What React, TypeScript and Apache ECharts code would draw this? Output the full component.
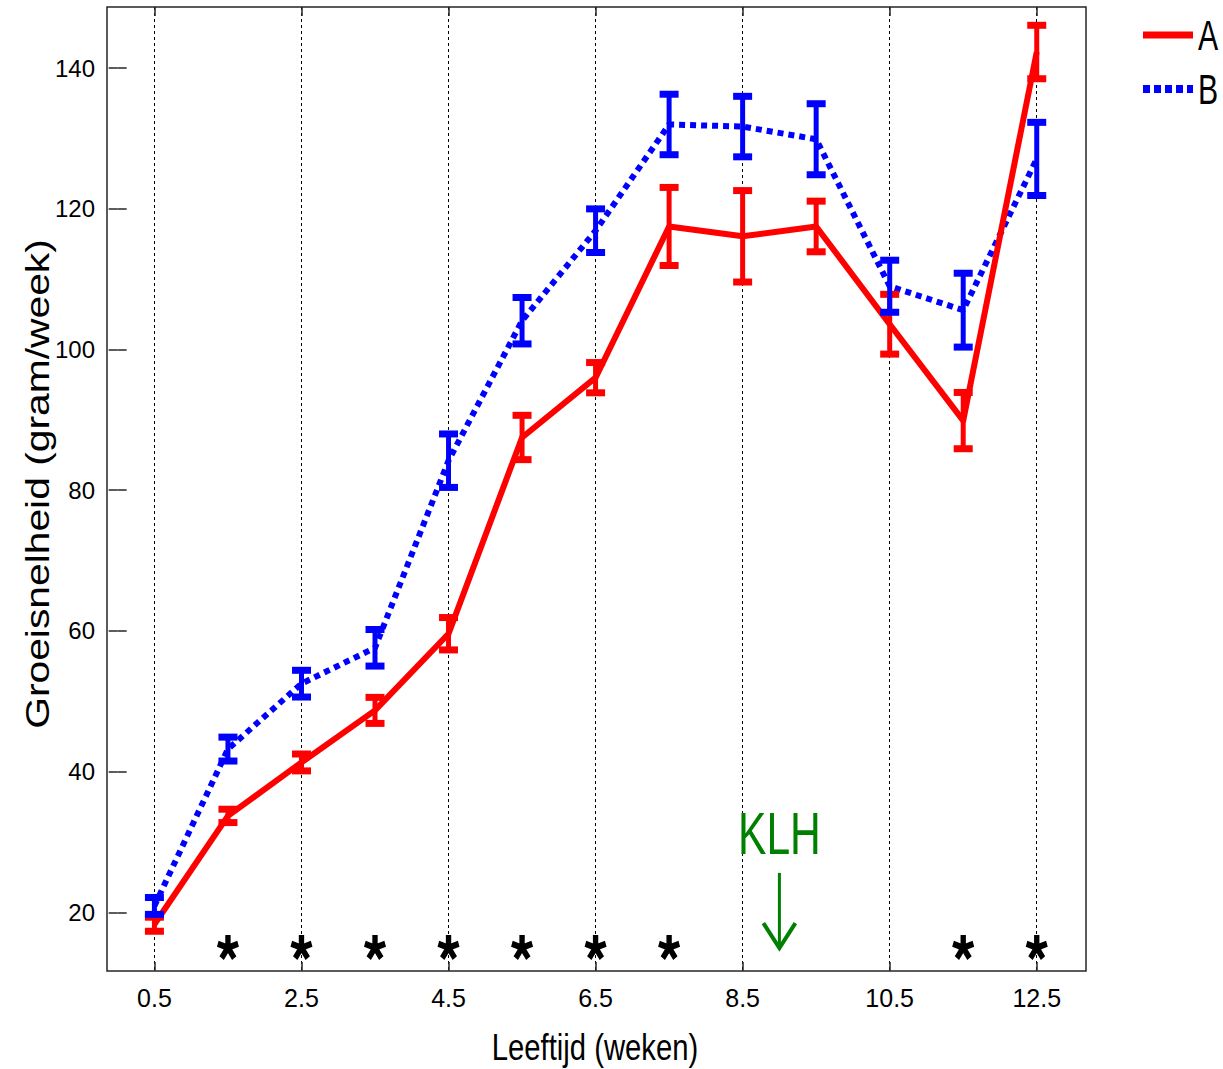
import React, { useEffect, useRef } from "react";
import * as echarts from "echarts";

const weeks = [0.5, 1.5, 2.5, 3.5, 4.5, 5.5, 6.5, 7.5, 8.5, 9.5, 10.5, 11.5, 12.5];
const meanA = [18.3, 33.7, 41.3, 48.7, 59.6, 87.5, 96.0, 117.5, 116.1, 117.5, 103.6, 89.9, 142.3];
const errA = [1.0, 0.95, 1.2, 1.85, 2.3, 3.15, 2.15, 5.55, 6.5, 3.6, 4.25, 4.0, 3.8];
const meanB = [20.9, 43.2, 52.5, 57.6, 84.2, 104.1, 116.9, 132.0, 131.7, 129.9, 109.0, 105.6, 127.1];
const errB = [1.2, 1.7, 1.9, 2.6, 3.8, 3.3, 3.1, 4.3, 4.3, 5.05, 3.7, 5.25, 5.2];
const starWeeks = [1.5, 2.5, 3.5, 4.5, 5.5, 6.5, 7.5, 11.5, 12.5];
const starLevel = 15.0;
const xTicks = [0.5, 2.5, 4.5, 6.5, 8.5, 10.5, 12.5];
const yTicks = [20, 40, 60, 80, 100, 120, 140];
const seriesNames = ["A", "B"];
const seriesColors = ["#ff0000", "#0000ff"];
const xName = "Leeftijd (weken)";
const yName = "Groeisnelheid (gram/week)";
const klhLabel = "KLH";
const klhWeek = 9.0;
const klhTextLevel = 31.2;
const klhArrowTop = 25.6;
const klhArrowBottom = 14.9;

const X_MIN = -0.145;
const X_MAX = 13.17;
const Y_MIN = 11.65;
const Y_MAX = 148.7;

const SANS = "'Liberation Sans', Arial, sans-serif";

function starPath(): string {
  const angles = [-90, -18, 54, 126, 198];
  const w = 0.25;
  const parts: string[] = [];
  for (const a of angles) {
    const r = (a * Math.PI) / 180;
    const dx = Math.cos(r), dy = Math.sin(r);
    const nx = -dy * w, ny = dx * w;
    const p = [
      [nx, ny],
      [dx + nx, dy + ny],
      [dx - nx, dy - ny],
      [-nx, -ny],
    ];
    parts.push(
      "M" + p.map((q) => q[0].toFixed(3) + " " + q[1].toFixed(3)).join(" L") + " Z"
    );
  }
  return "path://" + parts.join(" ");
}

function errorBarRender(color: string) {
  return (params: any, api: any) => {
    const x = api.value(0);
    const lo = api.value(1);
    const hi = api.value(2);
    const pLo = api.coord([x, lo]);
    const pHi = api.coord([x, hi]);
    const capW = 19;
    const capH = 7;
    const stemW = 5;
    return {
      type: "group",
      children: [
        {
          type: "rect",
          shape: { x: pHi[0] - stemW / 2, y: pHi[1], width: stemW, height: pLo[1] - pHi[1] },
          style: { fill: color },
        },
        {
          type: "rect",
          shape: { x: pHi[0] - capW / 2, y: pHi[1] - capH / 2, width: capW, height: capH },
          style: { fill: color },
        },
        {
          type: "rect",
          shape: { x: pLo[0] - capW / 2, y: pLo[1] - capH / 2, width: capW, height: capH },
          style: { fill: color },
        },
      ],
    };
  };
}

export default function App() {
  const ref = useRef<HTMLDivElement>(null);
  useEffect(() => {
    document.body.style.margin = "0";
    if (!ref.current) return;
    const chart = echarts.init(ref.current, null, { renderer: "svg" });
    const tickStyle = { color: "#262626", width: 1.5 };
    const option: any = {
      animation: false,
      backgroundColor: "#ffffff",
      grid: {
        left: 107,
        right: 137,
        top: 7,
        bottom: 98,
        show: true,
        borderColor: "#262626",
        borderWidth: 1.5,
        backgroundColor: "transparent",
      },
      xAxis: [
        {
          type: "value",
          min: X_MIN,
          max: X_MAX,
          position: "bottom",
          axisLine: { show: false },
          axisTick: { show: true, inside: true, length: 9, customValues: xTicks, lineStyle: tickStyle },
          axisLabel: {
            customValues: xTicks,
            fontSize: 25,
            fontFamily: SANS,
            color: "#000",
            margin: 14,
            formatter: (v: number) => v.toFixed(1),
          },
          splitLine: { show: true, lineStyle: { type: [3, 3], color: "#000", width: 1 } },
        },
        {
          type: "value",
          min: X_MIN,
          max: X_MAX,
          position: "top",
          axisLine: { show: false },
          axisTick: { show: true, inside: true, length: 9, customValues: xTicks, lineStyle: tickStyle },
          axisLabel: { show: false },
          splitLine: { show: false },
        },
      ],
      yAxis: [
        {
          type: "value",
          min: Y_MIN,
          max: Y_MAX,
          position: "left",
          axisLine: { show: false },
          axisTick: { show: true, inside: true, length: 9, customValues: yTicks, lineStyle: tickStyle },
          axisLabel: {
            customValues: yTicks,
            fontSize: 24,
            fontFamily: SANS,
            color: "#000",
            margin: 12,
          },
          splitLine: { show: false },
        },
        {
          type: "value",
          min: Y_MIN,
          max: Y_MAX,
          position: "right",
          axisLine: { show: false },
          axisTick: { show: true, inside: true, length: 9, customValues: yTicks, lineStyle: tickStyle },
          axisLabel: { show: false },
          splitLine: { show: false },
        },
      ],
      series: [
        {
          name: seriesNames[1],
          type: "line",
          data: weeks.map((w, i) => [w, meanB[i]]),
          symbol: "none",
          lineStyle: { color: seriesColors[1], width: 6, type: [6, 5], cap: "butt" },
          z: 2,
        },
        {
          name: seriesNames[0],
          type: "line",
          data: weeks.map((w, i) => [w, meanA[i]]),
          symbol: "none",
          lineStyle: { color: seriesColors[0], width: 6, join: "round" },
          z: 3,
        },
        {
          name: seriesNames[0] + " err",
          type: "custom",
          data: weeks.map((w, i) => [w, meanA[i] - errA[i], meanA[i] + errA[i]]),
          encode: { x: 0, y: [1, 2] },
          renderItem: errorBarRender(seriesColors[0]),
          z: 4,
        },
        {
          name: seriesNames[1] + " err",
          type: "custom",
          data: weeks.map((w, i) => [w, meanB[i] - errB[i], meanB[i] + errB[i]]),
          encode: { x: 0, y: [1, 2] },
          renderItem: errorBarRender(seriesColors[1]),
          z: 5,
        },
        {
          name: "significant",
          type: "scatter",
          data: starWeeks.map((w) => [w, starLevel]),
          symbol: starPath(),
          symbolSize: [22, 25],
          itemStyle: { color: "#000", opacity: 1 },
          z: 6,
        },
      ],
    };
    chart.setOption(option);

    const pText = chart.convertToPixel({ gridIndex: 0 }, [klhWeek, klhTextLevel]);
    const pTop = chart.convertToPixel({ gridIndex: 0 }, [klhWeek, klhArrowTop]);
    const pBot = chart.convertToPixel({ gridIndex: 0 }, [klhWeek, klhArrowBottom]);
    const green = "#008000";

    chart.setOption({
      graphic: [
        // legend
        { type: "line", shape: { x1: 1143, y1: 35, x2: 1193, y2: 35 }, style: { stroke: seriesColors[0], lineWidth: 7 } },
        {
          type: "text", x: 1198, y: 36, scaleX: 0.72,
          style: { text: seriesNames[0], fontSize: 42, fontFamily: SANS, fill: "#000", align: "left", verticalAlign: "middle" },
        },
        { type: "line", shape: { x1: 1143, y1: 89, x2: 1193, y2: 89 }, style: { stroke: seriesColors[1], lineWidth: 8, lineDash: [7, 4] } },
        {
          type: "text", x: 1198, y: 90, scaleX: 0.72,
          style: { text: seriesNames[1], fontSize: 42, fontFamily: SANS, fill: "#000", align: "left", verticalAlign: "middle" },
        },
        // axis names
        {
          type: "text", x: 595, y: 1047, scaleX: 0.79,
          style: { text: xName, fontSize: 37, fontFamily: SANS, fill: "#000", align: "center", verticalAlign: "middle" },
        },
        {
          type: "text", x: 37, y: 484, rotation: Math.PI / 2, scaleX: 1.2,
          style: { text: yName, fontSize: 34, fontFamily: SANS, fill: "#000", align: "center", verticalAlign: "middle" },
        },
        // KLH annotation
        {
          type: "text", x: pText[0], y: pText[1], scaleX: 0.71,
          style: { text: klhLabel, fontSize: 60, fontFamily: SANS, fill: green, align: "center", verticalAlign: "middle" },
        },
        {
          type: "line", shape: { x1: pTop[0], y1: pTop[1], x2: pBot[0], y2: pBot[1] - 2 },
          style: { stroke: green, lineWidth: 3 },
        },
        {
          type: "polyline",
          shape: { points: [[pBot[0] - 16, pBot[1] - 25], [pBot[0], pBot[1]], [pBot[0] + 16, pBot[1] - 25]] },
          style: { stroke: green, lineWidth: 4, fill: "none", lineJoin: "miter" },
        },
      ],
    });

    return () => chart.dispose();
  }, []);
  return <div ref={ref} style={{ width: 1223, height: 1069 }} />;
}
